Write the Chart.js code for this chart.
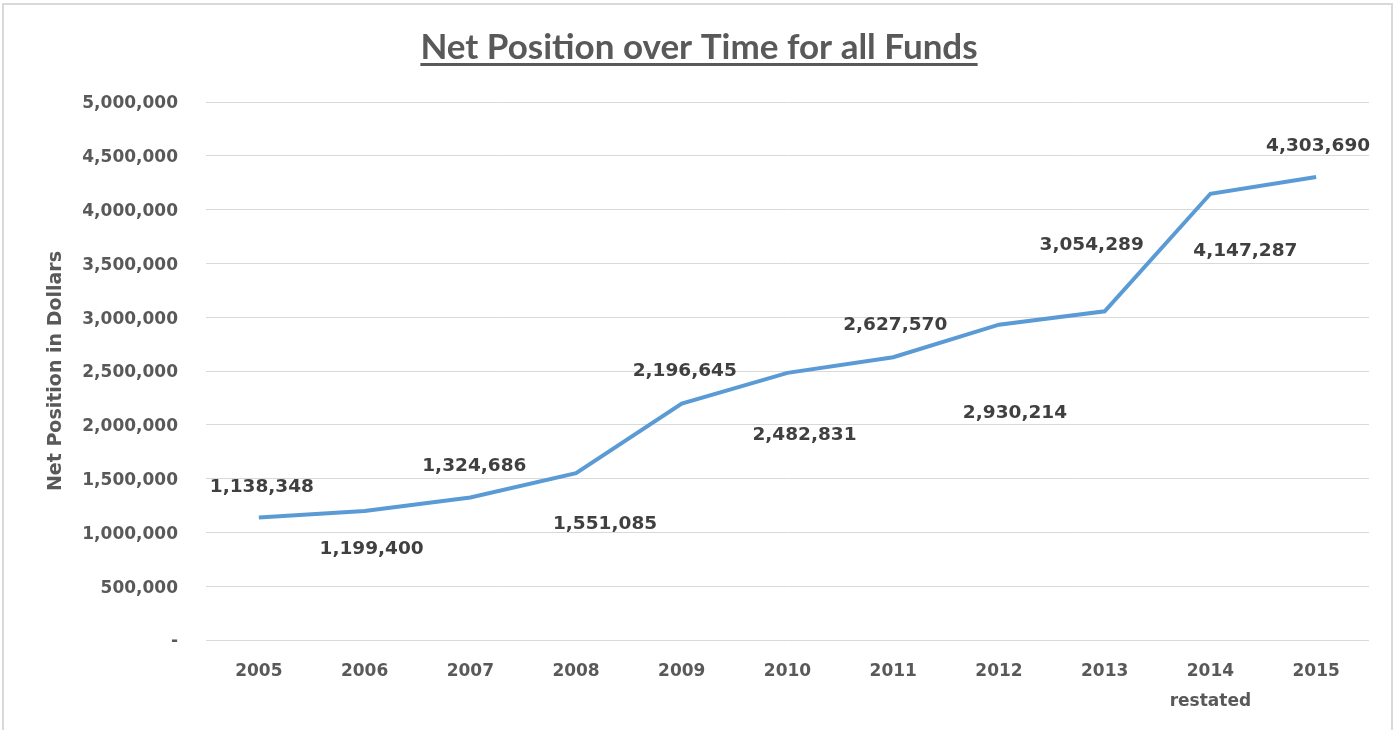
<!DOCTYPE html>
<html>
<head>
<meta charset="utf-8">
<script src="https://cdn.jsdelivr.net/npm/chart.js@4.4.1/dist/chart.umd.min.js"></script>
<style>
  html, body { margin: 0; padding: 0; background: #ffffff; }
  #frame {
    position: absolute; left: 2px; top: 3px; width: 1391px; height: 740px;
    border: 2px solid #d9d9d9; box-sizing: border-box;
  }
  #wrap { position: absolute; left: 0; top: 0; width: 1400px; height: 730px; }
</style>
</head>
<body>
<div id="frame"></div>
<div id="wrap"><canvas id="chart" width="1400" height="730"></canvas></div>
<script>
// values
var years = ['2005', '2006', '2007', '2008', '2009', '2010', '2011', '2012', '2013', ['2014', 'restated'], '2015'];
var netPosition = [1138348, 1199400, 1324686, 1551085, 2196645, 2482831, 2627570, 2930214, 3054289, 4147287, 4303690];
var yTicks = [0, 500000, 1000000, 1500000, 2000000, 2500000, 3000000, 3500000, 4000000, 4500000, 5000000];

// label nudges (pixels from the point), as placed by hand in the original
var labelShift = [[3, -30], [7, 38], [4, -31], [29, 51], [3, -32], [17, 62], [2, -32], [16, 88], [-13, -66], [35, 57], [2, -31]];

var titleText = 'Net Position over Time for all Funds';
var greyText = '#595959';
var tickFont = { family: 'DejaVu Sans', size: 17, weight: 'bold' };

function fmt(v) {
    if (v === 0) return '-';
    return v.toLocaleString('en-US');
}

var titlePlugin = {
    id: 'underlinedTitle',
    afterDraw: function(chart) {
        var ctx = chart.ctx;
        ctx.save();
        ctx.font = 'bold 35px Lato';
        ctx.fillStyle = greyText;
        ctx.textAlign = 'center';
        ctx.textBaseline = 'alphabetic';
        var cx = 699, base = 59;
        ctx.fillText(titleText, cx, base);
        var w = ctx.measureText(titleText).width;
        ctx.fillRect(cx - w / 2, base + 4, w, 3);
        ctx.restore();
    }
};

var labelPlugin = {
    id: 'pointLabels',
    afterDatasetsDraw: function(chart) {
        var ctx = chart.ctx;
        var pts = chart.getDatasetMeta(0).data;
        ctx.save();
        ctx.font = 'bold 18.5px "DejaVu Sans"';
        ctx.fillStyle = '#404040';
        ctx.textAlign = 'center';
        ctx.textBaseline = 'middle';
        pts.forEach(function(p, i) {
            ctx.fillText(fmt(netPosition[i]), p.x + labelShift[i][0], p.y + labelShift[i][1]);
        });
        ctx.restore();
    }
};

new Chart(document.getElementById('chart'), {
    type: 'line',
    data: {
        labels: years,
        datasets: [{
            data: netPosition,
            borderColor: '#5b9bd5',
            borderWidth: 4,
            pointRadius: 0,
            tension: 0,
            fill: false
        }]
    },
    options: {
        responsive: false,
        animation: false,
        devicePixelRatio: 1,
        layout: { padding: { left: 0, top: 102, right: 31, bottom: 0 } },
        plugins: {
            legend: { display: false },
            tooltip: { enabled: false },
            title: { display: false }
        },
        scales: {
            x: {
                offset: true,
                grid: { display: false, drawTicks: false },
                border: { display: false },
                ticks: {
                    color: greyText,
                    font: { family: 'DejaVu Sans', size: 17, weight: 'bold', lineHeight: 1.8 },
                    padding: 16,
                    maxRotation: 0
                },
                afterFit: function(s) { s.height = 90; }
            },
            y: {
                min: 0,
                max: 5000000,
                afterBuildTicks: function(s) {
                    s.ticks = yTicks.map(function(v) { return { value: v }; });
                },
                grid: { color: '#d9d9d9', lineWidth: 1, drawTicks: false },
                border: { display: false },
                ticks: { color: greyText, font: tickFont, padding: 28, labelOffset: 2, callback: fmt },
                title: {
                    display: true,
                    text: 'Net Position in Dollars',
                    color: greyText,
                    font: { family: 'DejaVu Sans', size: 19, weight: 'bold' },
                    padding: { top: 45, bottom: 0 }
                },
                afterFit: function(s) { s.width = 206; }
            }
        }
    },
    plugins: [titlePlugin, labelPlugin]
});
</script>
</body>
</html>
